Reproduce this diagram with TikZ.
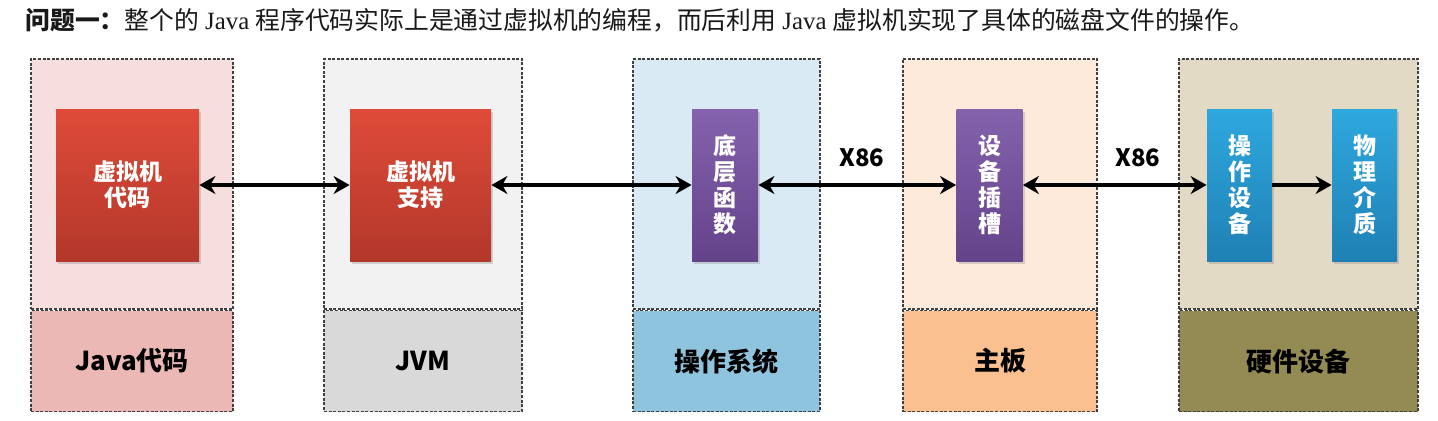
\documentclass[tikz,border=0pt]{standalone}
\usepackage{fontspec}
\setmainfont{Liberation Serif}
\newfontfamily\cjk{Noto Sans CJK SC}
\usepackage{xcolor}
\usepackage{tikz}
\usetikzlibrary{arrows.meta, positioning, shadows}
\definecolor{javabg}{HTML}{F6DEDE}
\definecolor{javabase}{HTML}{ECB8B5}
\definecolor{jvmbg}{HTML}{F2F2F2}
\definecolor{jvmbase}{HTML}{D9D9D9}
\definecolor{osbg}{HTML}{DAEAF5}
\definecolor{osbase}{HTML}{8FC4DE}
\definecolor{boardbg}{HTML}{FDEADB}
\definecolor{boardbase}{HTML}{FAC08F}
\definecolor{hwbg}{HTML}{E3DAC6}
\definecolor{hwbase}{HTML}{948A54}
\definecolor{redtop}{HTML}{DF4B39}
\definecolor{redbot}{HTML}{B3372A}
\definecolor{purtop}{HTML}{8462AC}
\definecolor{purbot}{HTML}{64438B}
\definecolor{bluetop}{HTML}{2EA8DE}
\definecolor{bluebot}{HTML}{1F80B4}

\begin{document}
\begin{tikzpicture}[x=0.5pt, y=-0.5pt,
        every node/.style={inner sep=0pt, align=center},
        panel/.style={
            draw=black!75,
            dash pattern=on 1.5pt off 0.8pt,
            line width=0.8pt,
            minimum height=125pt},
        base/.style={
            panel,
            minimum height=50.5pt,
            font=\cjk\bfseries\fontsize{13}{15}\selectfont},
        block/.style={
            text=white,
            minimum height=76pt,
            font=\cjk\bfseries\fontsize{11.5}{13}\selectfont,
            drop shadow={opacity=0.3, shadow xshift=1pt, shadow yshift=-1.5pt}},
        redbox/.style={block, top color=redtop, bottom color=redbot},
        purbox/.style={block, top color=purtop, bottom color=purbot, minimum width=33pt},
        bluebox/.style={block, top color=bluetop, bottom color=bluebot, minimum width=32.5pt},
        link/.style={line width=2.4pt, {Stealth[length=8pt,width=9pt]}-{Stealth[length=8pt,width=9pt]}},
        >={Stealth[length=8pt,width=9pt]}]

        \useasboundingbox[fill=white] (0,0) rectangle (1438,420);

        % title line
        \node[anchor=west, text=black!90, font=\fontsize{12.4}{14}\selectfont] (title) at (25,20)
            {{\cjk\bfseries 问题一：}{\cjk 整个的} Java {\cjk 程序代码实际上是通过虚拟机的编程，而后利用} Java {\cjk 虚拟机实现了具体的磁盘文件的操作。}};

        % columns
        \node[panel, fill=javabg, minimum width=101pt] (javatop) at (132,184) {};
        \node[base, fill=javabase, minimum width=101pt, below=0pt of javatop] (javabase) {Java代码};
        \node[panel, fill=jvmbg, minimum width=99pt] (jvmtop) at (423,184) {};
        \node[base, fill=jvmbase, minimum width=99pt, below=0pt of jvmtop] (jvmbase) {JVM};
        \node[panel, fill=osbg, minimum width=93.5pt] (ostop) at (726.5,184) {};
        \node[base, fill=osbase, minimum width=93.5pt, below=0pt of ostop] (osbase) {操作系统};
        \node[panel, fill=boardbg, minimum width=97pt] (boardtop) at (1000,184) {};
        \node[base, fill=boardbase, minimum width=97pt, below=0pt of boardtop] (boardbase) {主板};
        \node[panel, fill=hwbg, minimum width=119.5pt] (hwtop) at (1298.5,184) {};
        \node[base, fill=hwbase, minimum width=119.5pt, below=0pt of hwtop] (hwbase) {硬件设备};

        % inner blocks
        \node[redbox, minimum width=71.5pt] (vmcode) at (127.5,185) {虚拟机\\代码};
        \node[redbox, minimum width=70.5pt] (vmsupport) at (420.5,185) {虚拟机\\支持};
        \node[purbox] (lowfunc) at (725,185) {底\\层\\函\\数};
        \node[purbox] (slot) at (989.5,185) {设\\备\\插\\槽};
        \node[bluebox] (device) at (1239.5,185) {操\\作\\设\\备};
        \node[bluebox] (medium) at (1364.5,185) {物\\理\\介\\质};

        \node[font=\cjk\bfseries\fontsize{12}{14}\selectfont] (busa) at (862,158) {X86};
        \node[font=\cjk\bfseries\fontsize{12}{14}\selectfont] (busb) at (1138,158) {X86};

        \draw[link] (vmcode) -- (vmsupport);
        \draw[link] (vmsupport) -- (lowfunc);
        \draw[link] (lowfunc) -- (slot);
        \draw[link] (slot) -- (device);
        \draw[line width=2.4pt, ->] (device) -- (medium);
    \end{tikzpicture}
\end{document}
